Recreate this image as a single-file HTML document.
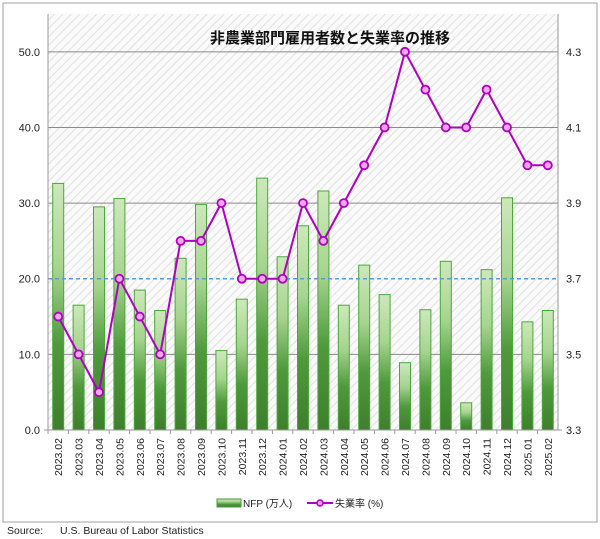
<!DOCTYPE html>
<html><head><meta charset="utf-8">
<style>
body{margin:0;background:#fff;}
svg{display:block;font-family:"Liberation Sans","Noto Sans CJK JP",sans-serif;}
</style></head>
<body>
<svg id="chart" width="600" height="539" viewBox="0 0 600 539">
<defs>
<pattern id="hatch" width="6" height="6" patternUnits="userSpaceOnUse" patternTransform="rotate(45)">
<rect width="6" height="6" fill="#fafafa"/>
<line x1="0" y1="0" x2="0" y2="6" stroke="#d8d8d8" stroke-width="1.5"/>
</pattern>
<linearGradient id="barGrad" x1="0" y1="0" x2="0" y2="1">
<stop offset="0" stop-color="#cde8bb"/>
<stop offset="0.35" stop-color="#a6d48f"/>
<stop offset="0.65" stop-color="#4f9a3c"/>
<stop offset="1" stop-color="#3e7f2c"/>
</linearGradient>
</defs>
<rect x="3" y="3" width="594" height="519" fill="#fff" stroke="#a0a0a0"/>
<rect x="48" y="14" width="510" height="416" fill="url(#hatch)"/>
<g id="grid"></g>
<g id="bars"></g>
<g id="line"></g>
<g id="axes"></g>
<text x="330" y="43" text-anchor="middle" font-size="15" font-weight="bold" fill="#111">非農業部門雇用者数と失業率の推移</text>
<g>
<rect x="217" y="499" width="24" height="8" fill="url(#barGrad)" stroke="#4a9a3a"/>
<text x="243" y="507" font-size="10" fill="#222">NFP (万人)</text>
<line x1="307" y1="503" x2="333" y2="503" stroke="#b000c0" stroke-width="2"/>
<circle cx="320" cy="503" r="3" fill="#f0a0f0" stroke="#b000c0" stroke-width="1.5"/>
<text x="335" y="507" font-size="10" fill="#222">失業率 (%)</text>
</g>
<text x="7" y="534" font-size="10.5" fill="#222">Source:</text>
<text x="60" y="534" font-size="10.5" fill="#222">U.S. Bureau of Labor Statistics</text>
</svg>
<script>
const categories=["2023.02","2023.03","2023.04","2023.05","2023.06","2023.07","2023.08","2023.09","2023.10","2023.11","2023.12","2024.01","2024.02","2024.03","2024.04","2024.05","2024.06","2024.07","2024.08","2024.09","2024.10","2024.11","2024.12","2025.01","2025.02"];
const nfpValues=[32.6,16.5,29.5,30.6,18.5,15.8,22.7,29.8,10.5,17.3,33.3,22.9,27.0,31.6,16.5,21.8,17.9,8.9,15.9,22.3,3.6,21.2,30.7,14.3,15.8];
const rateValues=[3.6,3.5,3.4,3.7,3.6,3.5,3.8,3.8,3.9,3.7,3.7,3.7,3.9,3.8,3.9,4.0,4.1,4.3,4.2,4.1,4.1,4.2,4.1,4.0,4.0];
const leftTicks=[0,10,20,30,40,50];
const rightTicks=[3.3,3.5,3.7,3.9,4.1,4.3];
const NS="http://www.w3.org/2000/svg";
const L=48,R=558,T=14,B=430;
const yL=v=>B-(v/55)*(B-T);
const yR=v=>B-((v-3.3)/1.1)*(B-T);
const step=(R-L)/categories.length;
const xC=i=>L+step*(i+0.5);
function mk(tag,attrs,parent){const e=document.createElementNS(NS,tag);for(const k in attrs)e.setAttribute(k,attrs[k]);parent.appendChild(e);return e;}
const grid=document.getElementById('grid'),bars=document.getElementById('bars'),line=document.getElementById('line'),axes=document.getElementById('axes');
leftTicks.forEach(t=>{
 if(t>0&&t!==20){const g=mk('line',{x1:L,x2:R,y1:yL(t),y2:yL(t),stroke:'#8a8a8a','stroke-width':1},grid);
 
 }
 const tx=mk('text',{x:L-8,y:yL(t)+4,'text-anchor':'end','font-size':11,fill:'#222'},axes);
 tx.textContent=t.toFixed(1);
 
 
});
rightTicks.forEach(t=>{
 const tx=mk('text',{x:R+8,y:yR(t)+4,'font-size':11,fill:'#222'},axes);
 tx.textContent=t.toFixed(1);
 
 
});
nfpValues.forEach((v,i)=>{
 const r=mk('rect',{x:xC(i)-5.5,y:yL(v),width:11,height:B-yL(v),fill:'url(#barGrad)',stroke:'#4aa83a','stroke-width':1},bars);
 
 
});
const ref=mk('line',{x1:L,x2:R,y1:yL(20),y2:yL(20),stroke:'#5b9bd5','stroke-width':1.5,'stroke-dasharray':'4,3'},bars);


const pl=mk('polyline',{points:rateValues.map((v,i)=>xC(i)+','+yR(v)).join(' '),fill:'none',stroke:'#b000c0','stroke-width':2},line);


rateValues.forEach((v,i)=>{
 const c=mk('circle',{cx:xC(i),cy:yR(v),r:4,fill:'#f4a8f4',stroke:'#b000c0','stroke-width':1.8},line);
 
 
});
mk('line',{x1:L,x2:L,y1:T,y2:B,stroke:'#999'},axes);
mk('line',{x1:R,x2:R,y1:T,y2:B,stroke:'#999'},axes);
mk('line',{x1:L-4,x2:R+4,y1:B,y2:B,stroke:'#999'},axes);
categories.forEach((c,i)=>{
 mk('line',{x1:L+step*i,x2:L+step*i,y1:B,y2:B+4,stroke:'#999'},axes);
 const tx=mk('text',{x:0,y:0,'font-size':10.5,fill:'#222','text-anchor':'end',transform:`translate(${xC(i)+4},${B+8}) rotate(-90)`},axes);
 tx.textContent=c;
 
 
});
</script>
</body></html>
